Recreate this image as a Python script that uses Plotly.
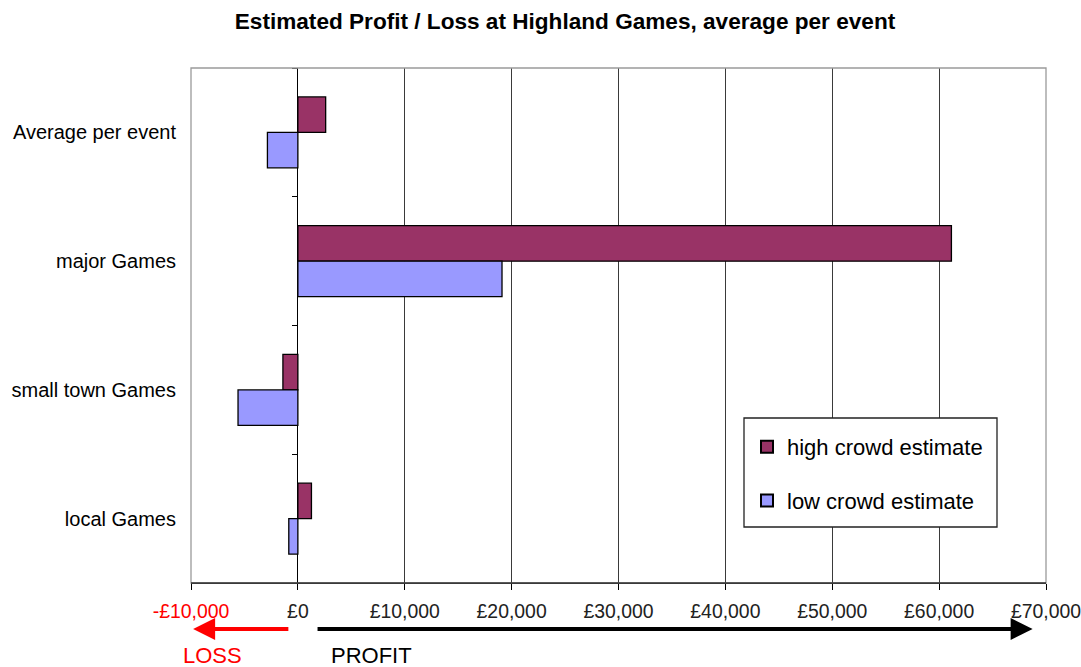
import plotly.graph_objects as go

# Event categories, listed top to bottom
categories = ["Average per event", "major Games", "small town Games", "local Games"]

# Average profit / loss per event (GBP)
high_crowd = [2600, 61150, -1400, 1270]
low_crowd = [-2850, 19100, -5600, -850]

series_names = ["high crowd estimate", "low crowd estimate"]
series_colors = ["#993366", "#9999FF"]

tick_values = [-10000, 0, 10000, 20000, 30000, 40000, 50000, 60000, 70000]
tick_labels = ["<span style='color:#FF0000'>-£10,000</span>", "£0", "£10,000", "£20,000",
               "£30,000", "£40,000", "£50,000", "£60,000", "£70,000"]

FONT = "Liberation Sans, Arial, sans-serif"

fig = go.Figure()
for name, vals, col in zip(series_names, [high_crowd, low_crowd], series_colors):
    fig.add_trace(go.Bar(
        x=vals, y=categories, orientation="h", name=name,
        marker=dict(color=col, line=dict(color="#000000", width=1.3)),
        legendgroup=name,
    ))

# invisible trace carrying the category tick marks on the zero line
fig.add_trace(go.Scatter(x=[None], y=[None], yaxis="y2", showlegend=False, hoverinfo="skip"))

fig.update_layout(
    width=1081, height=667,
    margin=dict(l=191, r=35, t=68, b=84, autoexpand=False),
    paper_bgcolor="white", plot_bgcolor="white",
    font=dict(family=FONT, color="#000000"),
    barmode="group", bargap=0.45, bargroupgap=0,
    showlegend=True,
    title=dict(
        text="<b>Estimated Profit / Loss at Highland Games, average per event</b>",
        x=565 / 1081, xref="container", xanchor="center",
        y=1 - 21 / 667, yref="container", yanchor="middle",
        font=dict(size=22.6, family=FONT, color="#000000"),
    ),
    xaxis=dict(
        range=[-10000, 70000], tickvals=tick_values, ticktext=tick_labels,
        showgrid=True, gridcolor="#3a3a3a", gridwidth=1,
        zeroline=True, zerolinecolor="#000000", zerolinewidth=1.3,
        showline=True, linecolor="#000000", linewidth=1,
        ticks="outside", ticklen=6, tickcolor="#000000",
        tickfont=dict(size=19.4, family=FONT, color="#222222"),
        ticklabelstandoff=5, ticklabeloverflow="allow",
        automargin=False, fixedrange=True,
    ),
    yaxis=dict(
        categoryorder="array", categoryarray=categories,
        autorange="reversed",
        showgrid=False, zeroline=False, showline=False, ticks="",
        tickfont=dict(size=20, family=FONT, color="#000000"),
        ticklabelstandoff=14,
        automargin=False, fixedrange=True,
    ),
    yaxis2=dict(
        overlaying="y", anchor="free", position=0.125, side="left",
        range=[3.5, -0.5], tickvals=[-0.5, 0.5, 1.5, 2.5, 3.5],
        ticks="outside", ticklen=6, tickcolor="#000000", tickwidth=1,
        showticklabels=False, showgrid=False, zeroline=False, showline=False,
        automargin=False, fixedrange=True,
    ),
    legend=dict(
        x=(747 - 191) / 855, xanchor="left",
        y=(583 - 426) / 515, yanchor="top",
        bgcolor="rgba(0,0,0,0)", borderwidth=0,
        font=dict(size=22, family=FONT, color="#000000"),
        traceorder="grouped", tracegroupgap=22,
        itemsizing="constant",
    ),
)

# plot area frame and legend box
fig.add_shape(type="rect", xref="paper", yref="paper", x0=0, x1=1, y0=0, y1=1,
              line=dict(color="#9a9a9a", width=1.3), layer="above")
fig.add_shape(type="rect", xref="paper", yref="paper",
              x0=(744 - 191) / 855, x1=(997 - 191) / 855,
              y0=(583 - 527) / 515, y1=(583 - 418) / 515,
              line=dict(color="#222222", width=1.3), fillcolor="white", layer="above")
# redraw the axis line on top of the frame
fig.add_shape(type="line", xref="paper", yref="paper", x0=0, x1=1, y0=0, y1=0,
              line=dict(color="#000000", width=1), layer="above")

# LOSS / PROFIT direction arrows below the axis
arrow_y = (583 - 629) / 515
fig.add_annotation(x=-9800, y=arrow_y, ax=-750, ay=0, xref="x", yref="paper",
                   axref="x", ayref="pixel", text="", showarrow=True,
                   arrowhead=2, arrowsize=1.1, arrowwidth=4, arrowcolor="#FF0000")
fig.add_annotation(x=68750, y=arrow_y, ax=1700, ay=0, xref="x", yref="paper",
                   axref="x", ayref="pixel", text="", showarrow=True,
                   arrowhead=2, arrowsize=1.1, arrowwidth=4, arrowcolor="#000000")
fig.add_annotation(x=-7950, y=(583 - 655) / 515, xref="x", yref="paper", text="LOSS",
                   showarrow=False, font=dict(size=22, family=FONT, color="#FF0000"),
                   xanchor="center", yanchor="middle")
fig.add_annotation(x=6900, y=(583 - 655) / 515, xref="x", yref="paper", text="PROFIT",
                   showarrow=False, font=dict(size=22, family=FONT, color="#000000"),
                   xanchor="center", yanchor="middle")

fig.write_html("out.html")
